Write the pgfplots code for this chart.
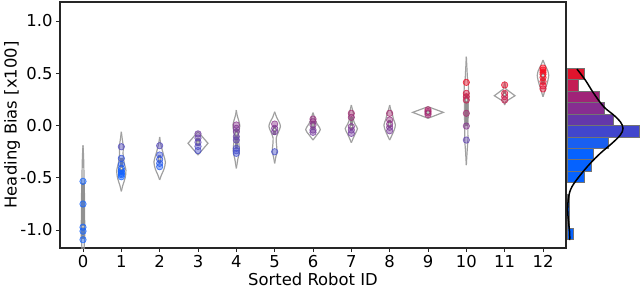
\documentclass[border=0pt]{standalone}
\usepackage{fontspec}
\setmainfont{DejaVu Sans}
\usepackage{pgfplots}
\usepackage{pgfplotstable}
\pgfplotsset{compat=1.18}

\definecolor{vgray}{RGB}{160,160,160}
\definecolor{bgray}{RGB}{145,145,145}
\definecolor{egray}{RGB}{115,115,115}
\definecolor{ha}{RGB}{225,20,45}
\definecolor{hb}{RGB}{195,30,85}
\definecolor{hc}{RGB}{160,35,120}
\definecolor{hd}{RGB}{135,45,145}
\definecolor{he}{RGB}{100,55,170}
\definecolor{hf}{RGB}{65,70,205}
\definecolor{hg}{RGB}{25,95,240}
\definecolor{hh}{RGB}{5,98,255}

% violin outlines: y, half-width (x units)
\pgfplotstableread{
y w
-0.19 0
-0.30 0.015
-0.45 0.025
-0.60 0.035
-0.80 0.04
-1.00 0.045
-1.10 0.04
-1.20 0.02
-1.25 0
}\vA
\pgfplotstableread{
y w
-0.06 0
-0.12 0.02
-0.20 0.05
-0.27 0.045
-0.35 0.07
-0.43 0.12
-0.50 0.10
-0.57 0.04
-0.63 0
}\vB
\pgfplotstableread{
y w
-0.11 0
-0.16 0.02
-0.21 0.05
-0.28 0.10
-0.35 0.15
-0.42 0.11
-0.47 0.05
-0.52 0
}\vC
\pgfplotstableread{
y w
-0.059 0
-0.17 0.26
-0.282 0
}\vD
\pgfplotstableread{
y w
0.148 0
0.10 0.02
0.05 0.06
0.00 0.09
-0.05 0.07
-0.11 0.05
-0.18 0.07
-0.25 0.08
-0.32 0.04
-0.41 0
}\vE
\pgfplotstableread{
y w
0.132 0
0.08 0.05
0.03 0.12
-0.01 0.15
-0.06 0.10
-0.12 0.04
-0.19 0.05
-0.25 0.06
-0.30 0.03
-0.362 0
}\vF
\pgfplotstableread{
y w
0.123 0
0.09 0.03
0.06 0.05
0.02 0.10
-0.04 0.19
-0.09 0.10
-0.139 0
}\vG
\pgfplotstableread{
y w
0.196 0
0.15 0.03
0.11 0.06
0.06 0.05
0.01 0.10
-0.03 0.16
-0.08 0.10
-0.12 0.05
-0.164 0
}\vH
\pgfplotstableread{
y w
0.196 0
0.15 0.03
0.11 0.07
0.06 0.10
0.005 0.15
-0.05 0.11
-0.10 0.05
-0.139 0
}\vI
\pgfplotstableread{
y w
0.18 0
0.126 0.40
0.069 0
}\vJ
\pgfplotstableread{
y w
0.658 0
0.55 0.015
0.45 0.03
0.40 0.05
0.30 0.06
0.20 0.05
0.10 0.05
0.00 0.04
-0.14 0.04
-0.25 0.02
-0.378 0
}\vK
\pgfplotstableread{
y w
0.419 0
0.35 0.03
0.285 0.27
0.23 0.03
0.196 0
}\vL
\pgfplotstableread{
y w
0.627 0
0.58 0.05
0.52 0.13
0.48 0.15
0.42 0.12
0.36 0.07
0.31 0.03
0.276 0
}\vM

% individual runs
\pgfplotstableread{
x y
0 -0.534
0 -0.751
0 -0.973
0 -1.011
0 -1.093
1 -0.203
1 -0.314
1 -0.371
1 -0.41
1 -0.432
1 -0.44
1 -0.458
1 -0.47
1 -0.49
2 -0.193
2 -0.282
2 -0.324
2 -0.362
2 -0.394
3 -0.08
3 -0.12
3 -0.16
3 -0.20
3 -0.24
4 0.005
4 -0.027
4 -0.059
4 -0.107
4 -0.139
4 -0.218
4 -0.241
4 -0.266
5 0.014
5 -0.027
5 -0.059
5 -0.251
6 0.062
6 0.036
6 0.005
6 -0.043
6 -0.065
7 0.117
7 0.078
7 -0.011
7 -0.043
7 -0.075
8 0.117
8 0.053
8 0.014
8 -0.017
8 -0.05
9 0.15
9 0.135
9 0.12
9 0.105
10 0.413
10 0.308
10 0.276
10 0.244
10 0.117
10 -0.005
10 -0.139
11 0.388
11 0.308
11 0.276
11 0.244
12 0.55
12 0.53
12 0.51
12 0.49
12 0.46
12 0.42
12 0.38
12 0.35
}\pts

% inner box: x, centre, half-length, median
\pgfplotstableread{
x c e med
0 -0.82 0.27 -0.97
1 -0.385 0.075 -0.41
2 -0.32 0.04 -0.32
3 -0.16 0.04 -0.16
4 -0.125 0.095 -0.08
5 -0.045 0.045 -0.04
6 0.0 0.04 0.005
7 0.02 0.06 -0.01
8 0.015 0.035 0.014
9 0.125 0.015 0.125
10 0.15 0.15 0.244
11 0.30 0.03 0.295
12 0.465 0.065 0.48
}\boxes

\newcommand{\violin}[2]{%
  \addplot[vgray, line width=1.2bp, smooth, tension=0.5] table[x expr={#1+\thisrow{w}}, y=y] {#2};
  \addplot[vgray, line width=1.2bp, smooth, tension=0.5] table[x expr={#1-\thisrow{w}}, y=y] {#2};
}
\newcommand{\violinS}[2]{%
  \addplot[vgray, line width=1.2bp] table[x expr={#1+\thisrow{w}}, y=y] {#2};
  \addplot[vgray, line width=1.2bp] table[x expr={#1-\thisrow{w}}, y=y] {#2};
}

\begin{document}
\begin{tikzpicture}
\pgfplotsset{
  every tick label/.append style={font=\fontsize{16.4bp}{19bp}\selectfont},
  every axis label/.append style={font=\fontsize{16.4bp}{19bp}\selectfont},
}
\begin{axis}[
  at={(0,0)}, anchor=south west,
  scale only axis, width=506bp, height=246bp,
  xmin=-0.6, xmax=12.6, ymin=-1.172, ymax=1.182,
  xtick={0,1,2,3,4,5,6,7,8,9,10,11,12},
  xticklabels={0,1,2,3,4,5,6,7,8,9,10,11,12},
  ytick={-1,-0.5,0,0.5,1},
  yticklabels={-1.0,-0.5,0.0,0.5,1.0},
  xtick pos=bottom, ytick pos=left,
  tick align=outside, major tick length=4bp,
  tick style={black!85, line width=0.9bp},
  axis line style={black!85, line width=1.1bp},
  every axis y label/.style={at={(rel axis cs:0,0.5)}, xshift=-48bp, rotate=90, anchor=center},
  every axis x label/.style={at={(rel axis cs:0.5,0)}, anchor=base, yshift=-37bp},
  xlabel={Sorted Robot ID},
  ylabel={Heading Bias [x100]},
  colormap={pts}{rgb255(0cm)=(20,100,255) rgb255(7.5cm)=(20,100,255) rgb255(16.5cm)=(250,10,30) rgb255(18cm)=(250,10,30)},
  point meta min=-1.2, point meta max=0.6,
]
\violin{0}{\vA}
\violin{1}{\vB}
\violin{2}{\vC}
\violinS{3}{\vD}
\violin{4}{\vE}
\violin{5}{\vF}
\violin{6}{\vG}
\violin{7}{\vH}
\violin{8}{\vI}
\violinS{9}{\vJ}
\violin{10}{\vK}
\violinS{11}{\vL}
\violin{12}{\vM}
% inner boxes
\addplot[draw=none, mark=none, error bars/.cd, y dir=both, y explicit,
  error mark=none, error bar style={bgray, line width=3.2bp}]
  table[x=x, y=c, y error=e] {\boxes};
% points
\addplot[scatter, only marks, mark=*, mark size=3.2bp, point meta=y,
  scatter/use mapped color={draw=mapped color, fill=mapped color, fill opacity=0.45, draw opacity=0.8, line width=0.7bp}]
  table[x=x, y=y] {\pts};
% medians
\addplot[only marks, mark=*, mark size=1.3bp, mark options={fill=white, draw=bgray, line width=0.5bp}]
  table[x=x, y=med] {\boxes};
\end{axis}
\begin{axis}[
  at={(507bp,0)}, anchor=south west,
  scale only axis, width=73bp, height=246bp,
  xmin=0, xmax=73, ymin=-1.172, ymax=1.182,
  axis lines=none, clip=false,
]
\addplot[fill=ha, draw=egray, line width=0.8bp] coordinates {(0,0.438) (17.3,0.438) (17.3,0.547) (0,0.547)} -- cycle;
\addplot[fill=hb, draw=egray, line width=0.8bp] coordinates {(0,0.328) (11.7,0.328) (11.7,0.438) (0,0.438)} -- cycle;
\addplot[fill=hc, draw=egray, line width=0.8bp] coordinates {(0,0.219) (32.3,0.219) (32.3,0.328) (0,0.328)} -- cycle;
\addplot[fill=hd, draw=egray, line width=0.8bp] coordinates {(0,0.110) (37.7,0.110) (37.7,0.219) (0,0.219)} -- cycle;
\addplot[fill=he, draw=egray, line width=0.8bp] coordinates {(0,0.000) (46,0.000) (46,0.110) (0,0.110)} -- cycle;
\addplot[fill=hf, draw=egray, line width=0.8bp] coordinates {(0,-0.109) (72.7,-0.109) (72.7,0.000) (0,0.000)} -- cycle;
\addplot[fill=hg, draw=egray, line width=0.8bp] coordinates {(0,-0.219) (41,-0.219) (41,-0.109) (0,-0.109)} -- cycle;
\addplot[fill=hh, draw=egray, line width=0.8bp] coordinates {(0,-0.328) (26.7,-0.328) (26.7,-0.219) (0,-0.219)} -- cycle;
\addplot[fill=hh, draw=egray, line width=0.8bp] coordinates {(0,-0.437) (24,-0.437) (24,-0.328) (0,-0.328)} -- cycle;
\addplot[fill=hh, draw=egray, line width=0.8bp] coordinates {(0,-0.547) (17.7,-0.547) (17.7,-0.437) (0,-0.437)} -- cycle;
\addplot[fill=hh, draw=egray, line width=0.6bp] coordinates {(0,-0.765) (2.5,-0.765) (2.5,-0.656) (0,-0.656)} -- cycle;
\addplot[fill=hh, draw=egray, line width=0.6bp] coordinates {(0,-0.875) (2.5,-0.875) (2.5,-0.765) (0,-0.765)} -- cycle;
\addplot[fill=hh, draw=egray, line width=0.6bp] coordinates {(0,-0.984) (2.5,-0.984) (2.5,-0.875) (0,-0.875)} -- cycle;
\addplot[fill=hh, draw=egray, line width=0.6bp] coordinates {(0,-1.093) (6,-1.093) (6,-0.984) (0,-0.984)} -- cycle;
\addplot[black, line width=1.5bp, smooth, tension=0.6] coordinates {
(10,0.54) (18.3,0.435) (26.7,0.308) (36.7,0.18) (46.7,0.10) (53.3,0.036) (56,-0.027) (53.3,-0.091) (45,-0.17) (33.3,-0.266) (23.3,-0.362) (13.3,-0.474) (5,-0.585) (1.7,-0.68) (0.7,-0.81) (1.7,-0.936) (2.7,-1.03) (2.7,-1.096)};
\end{axis}
\pgfresetboundingbox
\path[use as bounding box] (-60bp,-40bp) rectangle (580bp,248bp);
\end{tikzpicture}
\end{document}
